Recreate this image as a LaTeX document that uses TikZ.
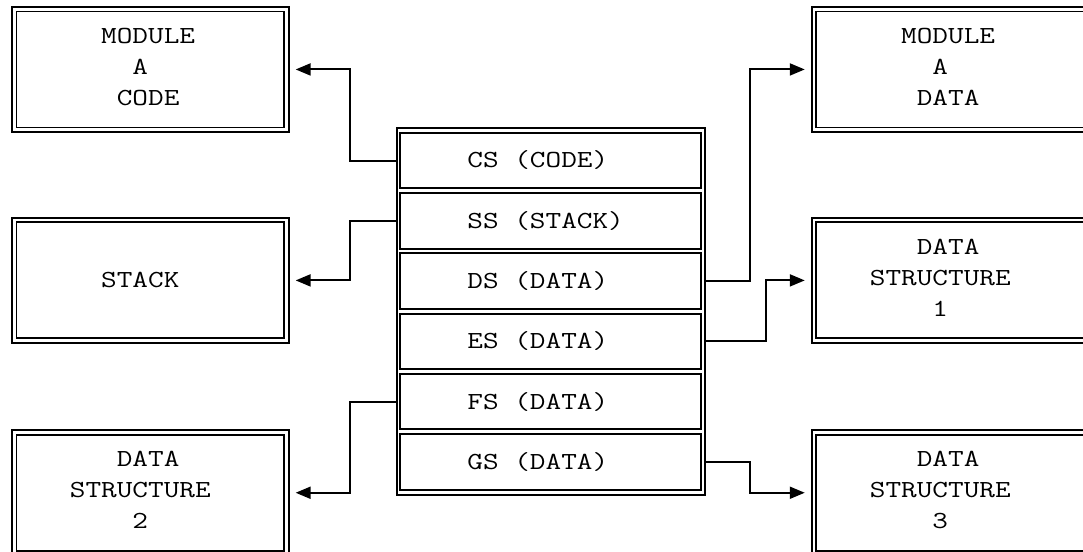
\documentclass[tikz,border=0pt]{standalone}
\usepackage{graphicx}
\usetikzlibrary{arrows.meta}
\newcommand\mono[1]{\scalebox{1.24}[1]{\fontsize{12.25pt}{15.5pt}\selectfont\ttfamily #1}}
\newcommand\sk{\hphantom{M}}
\tikzset{
  sidebox/.style={draw, double, line width=0.95pt, double distance=1.3pt, inner sep=0pt,
    minimum width=136.15pt, minimum height=60.25pt},
  segrow/.style={draw, line width=1pt, inner sep=0pt, minimum width=150.25pt, minimum height=27.75pt},
  framebox/.style={draw, line width=1pt, inner sep=0pt, minimum width=154.1pt, minimum height=183.25pt},
  lbl/.style={anchor=west, inner sep=0pt},
  conn/.style={line width=1pt, -{Triangle[length=7.5pt,width=6pt]}, shorten >=4.1pt}
}
\begin{document}
\begin{tikzpicture}[x=0.5pt, y=-0.5pt]
\useasboundingbox (0,0) rectangle (1083,552);
\clip (0,0) rectangle (1083,552);
% side boxes
\node[sidebox] (codeA) at (150.35,69.45) {};
\node[sidebox] (stack) at (150.35,280.4) {};
\node[sidebox] (dstwo) at (150.35,492.75) {};
\node[sidebox] (dataA) at (950.05,69.45) {};
\node[sidebox] (dsone) at (950.05,280.4) {};
\node[sidebox] (dsthree) at (950.05,492.75) {};
% side labels
\node[lbl] (codeAt) at (69.5,68.5) {\mono{\begin{tabular}{@{}l@{}}\sk\sk MODULE\\\sk\sk\sk\sk A\\\sk\sk\sk CODE\end{tabular}}};
\node[lbl] (stackt) at (69.5,280.4) {\mono{\sk\sk STACK}};
\node[lbl] (dstwot) at (69.5,491.5) {\mono{\begin{tabular}{@{}l@{}}\sk\sk\sk DATA\\STRUCTURE\\\sk\sk\sk\sk 2\end{tabular}}};
\node[lbl] (dataAt) at (869.5,68.5) {\mono{\begin{tabular}{@{}l@{}}\sk\sk MODULE\\\sk\sk\sk\sk A\\\sk\sk\sk DATA\end{tabular}}};
\node[lbl] (dsonet) at (869.5,279.5) {\mono{\begin{tabular}{@{}l@{}}\sk\sk\sk DATA\\STRUCTURE\\\sk\sk\sk\sk 1\end{tabular}}};
\node[lbl] (dsthreet) at (869.5,491.5) {\mono{\begin{tabular}{@{}l@{}}\sk\sk\sk DATA\\STRUCTURE\\\sk\sk\sk\sk 3\end{tabular}}};
% segment table
\node[framebox] (seg) at (550.6,311.25) {};
\node[segrow] (cs) at (550.45,160.5) {};
\node[segrow] (ss) at (550.45,220.8) {};
\node[segrow] (ds) at (550.45,281.1) {};
\node[segrow] (es) at (550.45,341.4) {};
\node[segrow] (fs) at (550.45,401.7) {};
\node[segrow] (gs) at (550.45,462.0) {};
\node[lbl] (cst) at (467,160.5) {\mono{CS (CODE)}};
\node[lbl] (sst) at (467,220.8) {\mono{SS (STACK)}};
\node[lbl] (dst) at (467,281.1) {\mono{DS (DATA)}};
\node[lbl] (est) at (467,341.4) {\mono{ES (DATA)}};
\node[lbl] (fst) at (467,401.7) {\mono{FS (DATA)}};
\node[lbl] (gst) at (467,462.0) {\mono{GS (DATA)}};
% elbow columns
\coordinate (lx) at (350,0);
\coordinate (rx) at (750,0);
\coordinate (rxx) at (766,0);
% connectors
\draw[conn] (seg.west |- cs) -- (lx |- cs) |- (codeA);
\draw[conn] (seg.west |- ss) -- (lx |- ss) |- (stack);
\draw[conn] (seg.west |- fs) -- (lx |- fs) |- (dstwo);
\draw[conn] (seg.east |- ds) -- (rx |- ds) |- (dataA);
\draw[conn] (seg.east |- es) -- (rxx |- es) |- (dsone);
\draw[conn] (seg.east |- gs) -- (rx |- gs) |- (dsthree);
\end{tikzpicture}
\end{document}
